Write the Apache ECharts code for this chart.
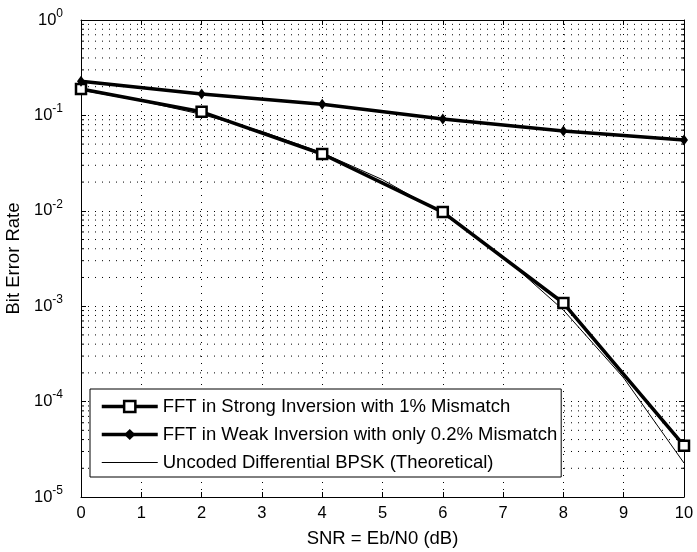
<!DOCTYPE html>
<html><head><meta charset="utf-8">
<script src="https://cdn.jsdelivr.net/npm/echarts@6/dist/echarts.min.js"></script>
<style>html,body{margin:0;padding:0;background:#fff}#c{width:697px;height:552px}</style>
</head><body><div id="c"></div>
<script>
const snr = [0, 2, 4, 6, 8, 10];
const strongBER = [0.189, 0.109, 0.0394, 0.0097, 0.00108, 0.0000345];
const weakBER = [0.228, 0.168, 0.131, 0.0917, 0.0687, 0.0552];
const theorySNR = [0, 1, 2, 3, 4, 5, 6, 7, 8, 9, 10];
const theoryBER = [0.184, 0.142, 0.1025, 0.068, 0.0405, 0.0212, 0.00933, 0.00333, 0.00091, 0.000177, 0.0000227];
const minorGrid = [
  2e-5,3e-5,4e-5,5e-5,6e-5,7e-5,8e-5,9e-5,
  2e-4,3e-4,4e-4,5e-4,6e-4,7e-4,8e-4,9e-4,
  2e-3,3e-3,4e-3,5e-3,6e-3,7e-3,8e-3,9e-3,
  2e-2,3e-2,4e-2,5e-2,6e-2,7e-2,8e-2,9e-2,
  2e-1,3e-1,4e-1,5e-1,6e-1,7e-1,8e-1,9e-1
];
const seriesNames = ['FFT in Strong Inversion with 1% Mismatch','FFT in Weak Inversion with only 0.2% Mismatch','Uncoded Differential BPSK (Theoretical)'];
const xName = 'SNR = Eb/N0 (dB)';
const yName = 'Bit Error Rate';

const FONT = 'Liberation Sans, Arial, Helvetica, sans-serif';
const chart = echarts.init(document.getElementById('c'));
const dotted = {color:'#000', width:1, type:[1,6]};
const axisCommon = {
  axisLine:{show:true, onZero:false, lineStyle:{color:'#000', width:1}},
  axisTick:{show:true, inside:true, length:5, lineStyle:{color:'#000'}}
};
chart.setOption({
  animation:false,
  backgroundColor:'#fff',
  textStyle:{fontFamily:FONT},
  grid:{left:81, right:13, top:20, bottom:55, show:false, containLabel:false, outerBoundsMode:'none'},
  xAxis:[
    Object.assign({type:'value', min:0, max:10, interval:1, position:'bottom',
      name:xName, nameLocation:'middle', nameGap:32,
      nameTextStyle:{fontSize:18.5, color:'#000', fontFamily:FONT},
      axisLabel:{fontSize:16.5, color:'#000', margin:8, fontFamily:FONT},
      splitLine:{show:true, lineStyle:dotted}}, axisCommon),
    Object.assign({type:'value', min:0, max:10, interval:1, position:'top',
      axisLabel:{show:false}, splitLine:{show:false}}, axisCommon)
  ],
  yAxis:[
    Object.assign({type:'log', logBase:10, min:1e-5, max:1, position:'left',
      name:yName, nameLocation:'middle', nameGap:57,
      nameTextStyle:{fontSize:18.5, color:'#000', fontFamily:FONT},
      axisLabel:{margin:18, color:'#000', fontFamily:FONT,
        formatter:function(v){const e=Math.round(Math.log10(v));return '{b|10}{s|'+e+'}';},
        rich:{b:{fontSize:16.5, fontFamily:FONT, color:'#000'}, s:{fontSize:12, fontFamily:FONT, color:'#000', padding:[0,0,13,0]}}},
      splitLine:{show:true, lineStyle:dotted}}, axisCommon),
    Object.assign({type:'log', logBase:10, min:1e-5, max:1, position:'right',
      axisLabel:{show:false}, splitLine:{show:false}}, axisCommon)
  ],
  legend:{
    orient:'vertical', left:90, top:389,
    padding:[8,4,5,10], itemGap:9, itemWidth:56, itemHeight:14,
    borderColor:'#000', borderWidth:1, backgroundColor:'#fff',
    textStyle:{fontSize:18.5, color:'#000', fontFamily:FONT},
    lineStyle:{width:'inherit'},
    itemStyle:{borderWidth:'inherit'},
    symbolKeepAspect:true,
    data:[
      {name:seriesNames[0]},
      {name:seriesNames[1]},
      {name:seriesNames[2], icon:'path://M0,0L56,0L56,1L0,1Z', itemStyle:{color:'#000'}}
    ]
  },
  series:[
    {type:'custom', silent:true, z:1, xAxisIndex:0, yAxisIndex:0,
      data:minorGrid.map(v=>[0,v]),
      renderItem:function(params, api){
        const v = api.value(1);
        const p0 = api.coord([0, v]);
        const p1 = api.coord([10, v]);
        return {type:'group', children:[
          {type:'line', shape:{x1:p0[0], y1:p0[1], x2:p1[0], y2:p1[1]}, style:{stroke:'#000', lineWidth:1, lineDash:[1,6]}},
          {type:'line', shape:{x1:p0[0], y1:p0[1], x2:p0[0]+3, y2:p0[1]}, style:{stroke:'#000', lineWidth:1}},
          {type:'line', shape:{x1:p1[0]-3, y1:p1[1], x2:p1[0], y2:p1[1]}, style:{stroke:'#000', lineWidth:1}}
        ]};
      }
    },
    {name:seriesNames[0], type:'line', z:5, data:snr.map((x,i)=>[x,strongBER[i]]),
      symbol:'rect', symbolSize:10, showAllSymbol:true,
      lineStyle:{color:'#000', width:3.5},
      itemStyle:{color:'#fff', borderColor:'#000', borderWidth:2.5}},
    {name:seriesNames[1], type:'line', z:5, data:snr.map((x,i)=>[x,weakBER[i]]),
      symbol:'diamond', symbolSize:[8,11],
      lineStyle:{color:'#000', width:3.5},
      itemStyle:{color:'#000', borderColor:'#000', borderWidth:0}},
    {name:seriesNames[2], type:'line', z:4, data:theorySNR.map((x,i)=>[x,theoryBER[i]]),
      symbol:'none', lineStyle:{color:'#000', width:1},
      itemStyle:{color:'#000'}}
  ]
});
</script></body></html>
